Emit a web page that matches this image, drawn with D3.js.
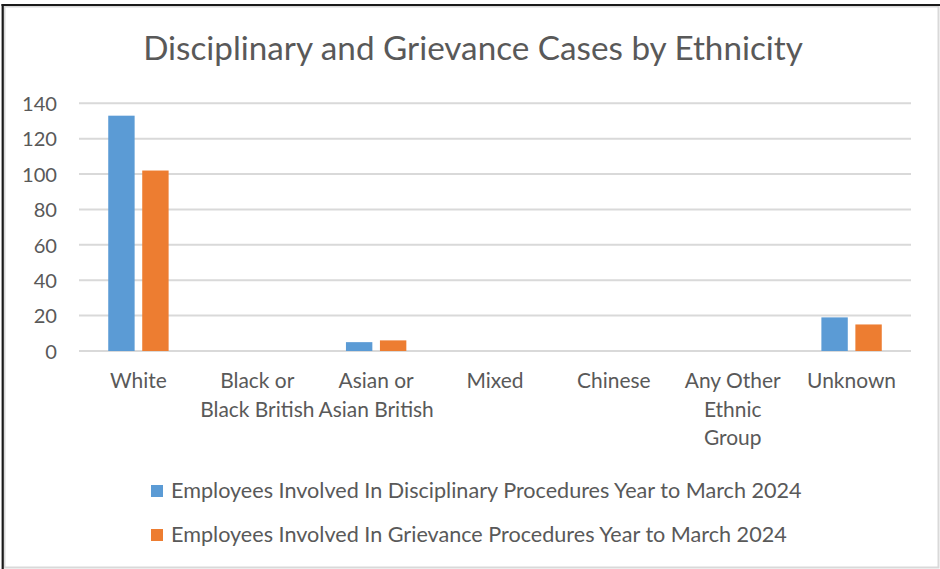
<!DOCTYPE html>
<html>
<head>
<meta charset="utf-8">
<script src="https://cdn.jsdelivr.net/npm/d3@7"></script>
<style>
  html, body { margin: 0; padding: 0; background: #fff; }
  svg { display: block; }
</style>
</head>
<body>
<svg id="chart" width="940" height="569"></svg>
<script>
// ---- data ----
const categories = ["White", "Black or Black British", "Asian or Asian British", "Mixed", "Chinese", "Any Other Ethnic Group", "Unknown"];
const categoryLines = [["White"], ["Black or", "Black British"], ["Asian or", "Asian British"], ["Mixed"], ["Chinese"], ["Any Other", "Ethnic", "Group"], ["Unknown"]];
const seriesNames = [
  "Employees Involved In Disciplinary Procedures Year to March 2024",
  "Employees Involved In Grievance Procedures Year to March 2024"
];
const disciplinary = [133, 0, 5, 0, 0, 0, 19];
const grievance = [102, 0, 6, 0, 0, 0, 15];
const yTicks = [0, 20, 40, 60, 80, 100, 120, 140];
const chartTitle = "Disciplinary and Grievance Cases by Ethnicity";

// ---- layout ----
const W = 940, H = 569;
const plot = { left: 79, right: 911, top: 103.3, bottom: 351 };
const colors = ["#5B9BD5", "#ED7D31"];
const textColor = "#595959";
const gridColor = "#D9D9D9";
const fontFamily = "Lato, 'Open Sans', 'Noto Sans', sans-serif";

const svg = d3.select("#chart");

// size a text so that its rendered width equals the target width
function fitFontSize(sample, targetWidth) {
  const t = svg.append("text").attr("font-family", fontFamily).attr("font-size", 100).text(sample);
  const len = t.node().getComputedTextLength();
  t.remove();
  return 100 * targetWidth / len;
}

const titleSize = fitFontSize(chartTitle, 660);
const tickSize = fitFontSize("140", 35);
const catSize = fitFontSize("Unknown", 89);
const legendSize = fitFontSize(seriesNames[0], 631);

// ---- frame ----
svg.append("rect").attr("width", W).attr("height", H).attr("fill", "#fff");
svg.append("rect")
  .attr("x", 4.5).attr("y", 6.5).attr("width", 934).attr("height", 561)
  .attr("fill", "none").attr("stroke", gridColor).attr("stroke-width", 2);
svg.append("line").attr("x1", 1.5).attr("x2", W).attr("y1", 5).attr("y2", 5)
  .attr("stroke", "#1a1a1a").attr("stroke-width", 2);
svg.append("line").attr("x1", 2.7).attr("x2", 2.7).attr("y1", 4).attr("y2", H)
  .attr("stroke", "#1a1a1a").attr("stroke-width", 2.2);

// ---- scales ----
const x0 = d3.scaleBand().domain(categories).range([plot.left, plot.right]).paddingInner(0).paddingOuter(0);
const groupFrac = 0.508;
const x1 = d3.scaleBand().domain(seriesNames)
  .range([x0.bandwidth() * (1 - groupFrac) / 2, x0.bandwidth() * (1 + groupFrac) / 2])
  .paddingInner(0.2235).paddingOuter(0);
const y = d3.scaleLinear().domain([0, 140]).range([plot.bottom, plot.top]);

// ---- gridlines ----
svg.append("g")
  .selectAll("line").data(yTicks).join("line")
  .attr("x1", plot.left).attr("x2", plot.right)
  .attr("y1", d => y(d)).attr("y2", d => y(d))
  .attr("stroke", gridColor).attr("stroke-width", 2);

// ---- y axis labels ----
const yAxis = d3.axisLeft(y).tickValues(yTicks).tickSize(0).tickPadding(0);
const yG = svg.append("g").attr("transform", "translate(57,0)").call(yAxis);
yG.select(".domain").remove();
yG.selectAll("text")
  .attr("font-family", fontFamily).attr("font-size", tickSize)
  .attr("fill", textColor).attr("dy", "0.36em").attr("x", 0);

// ---- bars ----
const seriesValues = [disciplinary, grievance];
const rows = categories.map((c, i) => ({ cat: c, values: seriesNames.map((s, k) => ({ s, k, v: seriesValues[k][i] })) }));
const groups = svg.append("g").selectAll("g").data(rows).join("g")
  .attr("transform", d => `translate(${x0(d.cat)},0)`);
groups.selectAll("rect").data(d => d.values.filter(e => e.v > 0)).join("rect")
  .attr("x", d => x1(d.s))
  .attr("width", x1.bandwidth())
  .attr("y", d => y(d.v))
  .attr("height", d => y(0) - y(d.v))
  .attr("fill", d => colors[d.k]);

// ---- category labels ----
const catG = svg.append("g");
categories.forEach((c, i) => {
  const t = catG.append("text")
    .attr("text-anchor", "middle")
    .attr("font-family", fontFamily).attr("font-size", catSize)
    .attr("fill", textColor);
  categoryLines[i].forEach((line, j) => {
    t.append("tspan")
      .attr("x", x0(c) + x0.bandwidth() / 2)
      .attr("y", 388 + j * 28.5)
      .text(line);
  });
});

// ---- title ----
svg.append("text")
  .attr("x", 473).attr("y", 60)
  .attr("text-anchor", "middle")
  .attr("font-family", fontFamily).attr("font-size", titleSize)
  .attr("fill", textColor)
  .text(chartTitle);

// ---- legend ----
const legend = svg.append("g").selectAll("g").data(seriesNames).join("g")
  .attr("transform", (d, i) => `translate(151,${485 + i * 44})`);
legend.append("rect").attr("width", 12).attr("height", 12).attr("fill", (d, i) => colors[i]);
legend.append("text")
  .attr("x", 20).attr("y", 13)
  .attr("font-family", fontFamily).attr("font-size", legendSize)
  .attr("fill", textColor)
  .text(d => d);
</script>
</body>
</html>
